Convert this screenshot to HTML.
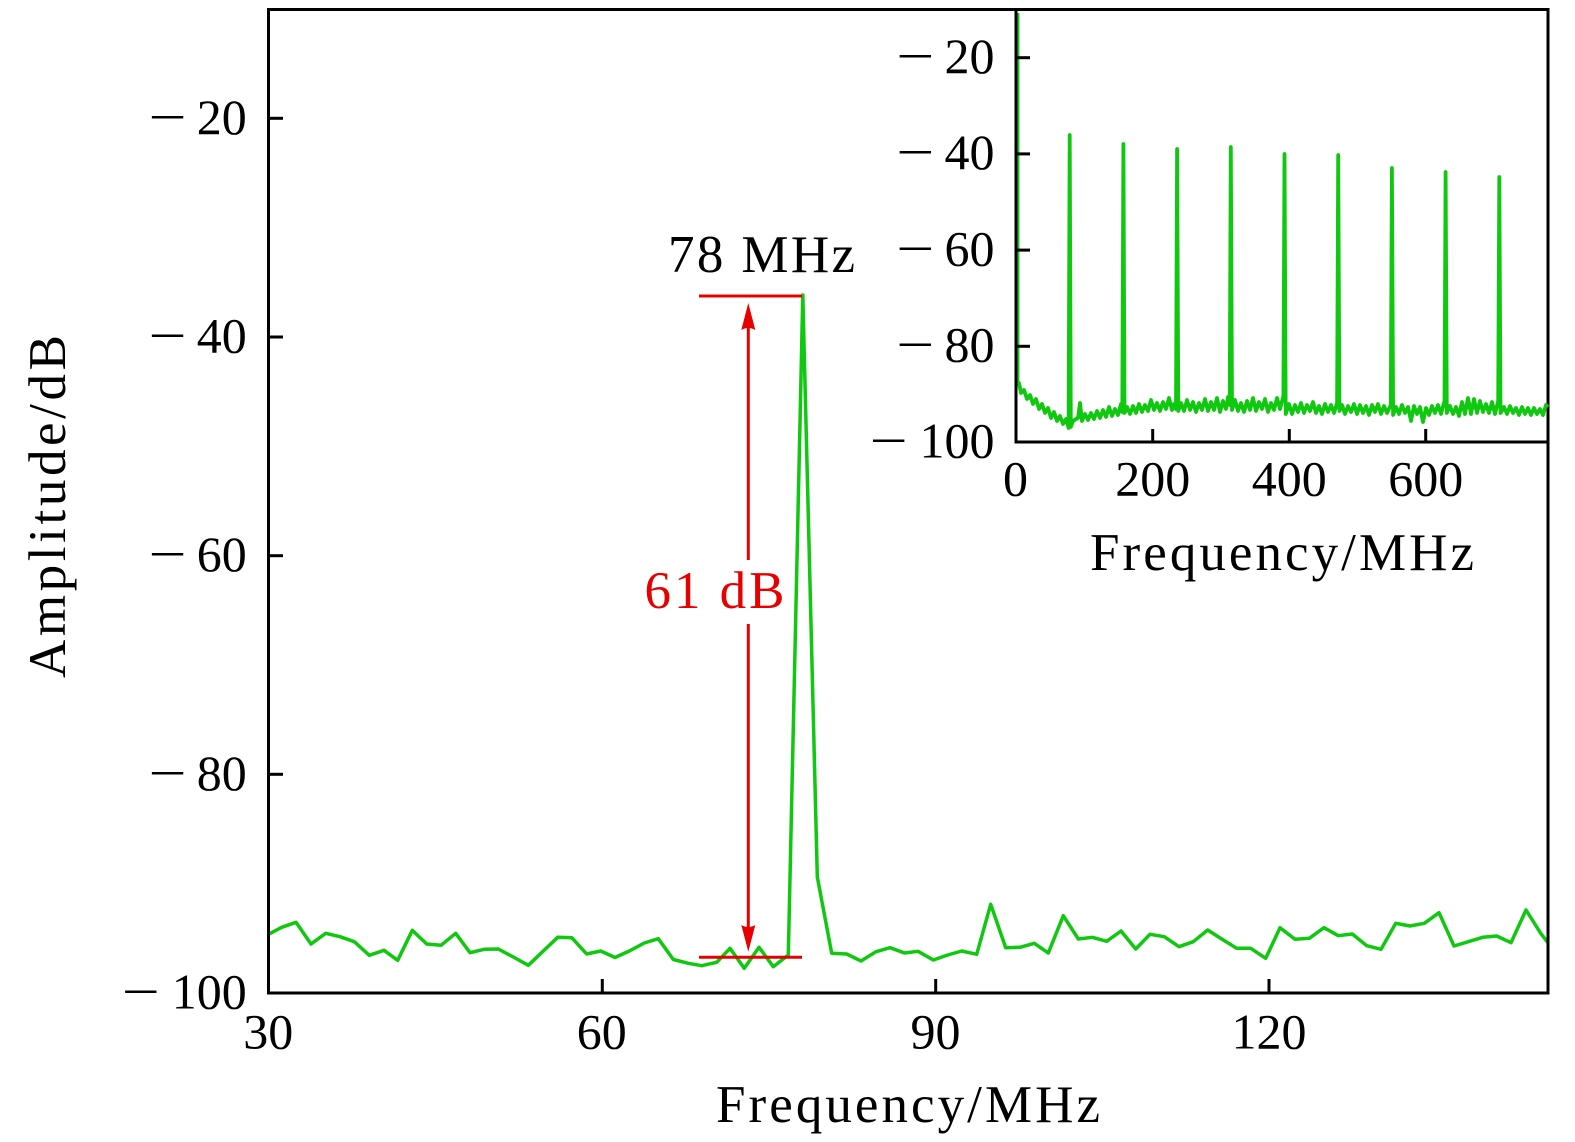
<!DOCTYPE html>
<html><head><meta charset="utf-8"><style>
html,body{margin:0;padding:0;background:#fff;}
svg{display:block;}
text{font-family:"Liberation Serif","DejaVu Serif",serif;font-size:50px;fill:#000;}
.big{font-size:53px;}
</style></head><body>
<svg width="1575" height="1142" viewBox="0 0 1575 1142" xmlns="http://www.w3.org/2000/svg">
<rect width="1575" height="1142" fill="#fff"/>
<defs><clipPath id="c"><rect x="269" y="9" width="1279" height="984"/></clipPath></defs>

<!-- main series -->
<polyline clip-path="url(#c)" fill="none" stroke="#0fc80f" stroke-width="3.5" stroke-linejoin="round" points="
267.2,935 281.7,927.3 296,922.3 311,944 325.7,933.3 340,936.7 354.3,941.7 369.3,955.3 384,950.3 397.7,960.3
412.3,930.3 426.7,944 441,945.3 455.7,933.3 470,952.7 484.3,949.3 498.3,949 513.3,957 528.3,965.3 543.3,951
557.7,937.3 571.7,937.7 586.7,954 600.7,951 615,957.5 629.3,951 644.3,943 658.3,938.7 673.3,959.5 688.3,963.3
701.7,965.7 716.7,962.3 730,948.3 744.3,968.3 759,947.3 773.3,966.7 788.3,955 802.8,295 817.3,877 831.7,953.3
846.7,954 861,961 876,951.7 890,947.7 904.5,953 918,951.3 933.3,960 947.7,955 961.7,951 976.7,954.3
990.7,904.3 1005.7,947.7 1020,947.3 1034.3,943.3 1048.3,953 1063.3,915.7 1078.3,939 1092.3,937.3 1106.7,941.3 1121,931
1135.7,949 1150,934.3 1164.3,936.7 1179,946.7 1193.3,941.7 1207.7,930 1221.7,939 1236.7,948.3 1250.7,948.3 1265.7,958.3
1280,927.7 1295,939.3 1309.3,938.3 1324,927.7 1338.3,935.7 1352.3,934 1366.7,945.7 1381,949.3 1395.7,923.3 1410,926
1424.3,923.3 1439,912.7 1454,946 1468.3,941.7 1482.7,937.3 1496.7,936 1511,942.7 1526,910 1540.7,933.3 1552,948"/>

<!-- main frame -->
<rect x="268.5" y="9.5" width="1279.5" height="983.5" fill="none" stroke="#000" stroke-width="3"/>
<!-- main ticks -->
<g stroke="#000" stroke-width="3">
<line x1="269" y1="118.3" x2="283" y2="118.3"/>
<line x1="269" y1="337" x2="283" y2="337"/>
<line x1="269" y1="555.7" x2="283" y2="555.7"/>
<line x1="269" y1="774.3" x2="283" y2="774.3"/>
<line x1="602.3" y1="993" x2="602.3" y2="979"/>
<line x1="935.7" y1="993" x2="935.7" y2="979"/>
<line x1="1269" y1="993" x2="1269" y2="979"/>
</g>
<!-- main y labels -->
<g>
<text transform="translate(148.5,134) scale(1.35,1)">−</text>
<text x="246.7" y="134" text-anchor="end">20</text>
<text transform="translate(148.5,352.5) scale(1.35,1)">−</text>
<text x="246.7" y="352.5" text-anchor="end">40</text>
<text transform="translate(148.5,571) scale(1.35,1)">−</text>
<text x="246.7" y="571" text-anchor="end">60</text>
<text transform="translate(148.5,790) scale(1.35,1)">−</text>
<text x="246.7" y="790" text-anchor="end">80</text>
<text transform="translate(121.8,1008.5) scale(1.35,1)">−</text>
<text x="246.7" y="1008.5" text-anchor="end">100</text>
</g>
<!-- main x labels -->
<g text-anchor="middle">
<text x="268.3" y="1048.5">30</text>
<text x="601.7" y="1048.5">60</text>
<text x="935.5" y="1048.5">90</text>
<text x="1269" y="1048.5">120</text>
</g>
<text class="big" x="716" y="1122" textLength="384" lengthAdjust="spacing">Frequency/MHz</text>
<text class="big" transform="translate(65,506.5) rotate(-90)" x="0" y="0" text-anchor="middle" textLength="343" lengthAdjust="spacing">Amplitude/dB</text>

<!-- annotations -->
<text class="big" x="668" y="272" textLength="187" lengthAdjust="spacing">78 MHz</text>
<g stroke="#e60000" stroke-width="3" fill="none">
<line x1="699" y1="296" x2="802" y2="296"/>
<line x1="699" y1="957.3" x2="802" y2="957.3"/>
<line x1="748.3" y1="326" x2="748.3" y2="560"/>
<line x1="748.3" y1="624" x2="748.3" y2="929"/>
</g>
<path d="M748.3,303 L755.3,330 Q748.3,326 741.3,330 Z" fill="#e60000"/>
<path d="M748.3,951.7 L755.3,925 Q748.3,929 741.3,925 Z" fill="#e60000"/>
<text class="big" x="644.5" y="608" textLength="140" lengthAdjust="spacing" style="fill:#e60000">61 dB</text>

<!-- inset -->
<line x1="1018" y1="13" x2="1018" y2="386" stroke="#0fc80f" stroke-width="2.8"/>
<polyline fill="none" stroke="#0fc80f" stroke-width="3.8" stroke-linejoin="round" points="
1017,385 1019,383 1021,393 1024,390 1027,399 1030,395 1033,404 1036,399 1039,409 1042,404 1045,413 1048,408 1051,418 1054,412 1057,421 1060,416 1063,424 1066,419 1068.6,428
1069.7,135 1070.8,427 1073,421 1076,419 1078,418 1080,403 1082,421 1085,414 1088,420 1091,413 1094,419 1097,411 1100,418 1103,410 1106,417 1109,407 1112,416 1115,409 1118,415 1121,404 1122.3,412
1123.4,144 1124.5,413 1127,407 1130,414 1133,406 1136,413 1139,404 1142,412 1145,405 1148,411 1151,400 1154,410 1157,403 1160,411 1163,402 1166,409 1169,398 1172,410 1174,404 1176,409
1177.1,149 1178.3,411 1181,403 1184,411 1187,400 1190,410 1193,402 1196,412 1199,403 1202,410 1205,399 1208,411 1211,402 1214,410 1217,398 1220,412 1223,401 1226,409 1228,397 1229.7,405
1230.8,147 1232,410 1235,400 1238,411 1241,403 1244,412 1247,401 1250,410 1253,398 1256,411 1259,402 1262,409 1265,399 1268,412 1271,403 1274,410 1277,398 1280,409 1283.4,396
1284.5,154 1285.7,414 1289,404 1292,414 1295,405 1298,412 1301,403 1304,413 1307,405 1310,411 1313,402 1316,413 1319,406 1322,414 1325,404 1328,412 1331,405 1334,413 1337.1,403
1338.2,155 1339.4,411 1342,405 1345,414 1348,406 1351,412 1354,404 1357,414 1360,405 1363,413 1366,406 1369,415 1372,405 1375,412 1378,404 1381,414 1384,406 1387,413 1390.8,405
1391.9,168 1393.1,415 1396,407 1399,414 1402,405 1405,413 1408,407 1411,421 1414,406 1417,414 1420,407 1423,422 1426,408 1429,415 1432,406 1435,413 1438,405 1441,414 1444.5,401
1445.6,172 1446.8,413 1450,406 1453,414 1456,407 1459,416 1462,402 1465,414 1468,398 1471,414 1474,399 1477,413 1480,401 1483,412 1486,404 1489,413 1492,402 1495,414 1498.2,401
1499.3,177 1500.5,413 1504,407 1507,414 1510,406 1513,413 1516,408 1519,415 1522,407 1525,414 1528,408 1531,415 1534,408 1537,414 1540,409 1543,415 1546,405 1548,407"/>
<g stroke="#000" stroke-width="3">
<line x1="1016" y1="9" x2="1016" y2="443.5"/>
<line x1="1014.5" y1="442" x2="1548" y2="442"/>
<line x1="1016" y1="57.7" x2="1030" y2="57.7"/>
<line x1="1016" y1="153.9" x2="1030" y2="153.9"/>
<line x1="1016" y1="250.1" x2="1030" y2="250.1"/>
<line x1="1016" y1="346.3" x2="1030" y2="346.3"/>
<line x1="1152.7" y1="442" x2="1152.7" y2="429"/>
<line x1="1289.3" y1="442" x2="1289.3" y2="429"/>
<line x1="1425.7" y1="442" x2="1425.7" y2="429"/>
</g>
<g>
<text transform="translate(896.3,73) scale(1.35,1)">−</text>
<text x="994.5" y="73" text-anchor="end">20</text>
<text transform="translate(896.3,169) scale(1.35,1)">−</text>
<text x="994.5" y="169" text-anchor="end">40</text>
<text transform="translate(896.3,265.5) scale(1.35,1)">−</text>
<text x="994.5" y="265.5" text-anchor="end">60</text>
<text transform="translate(896.3,361.5) scale(1.35,1)">−</text>
<text x="994.5" y="361.5" text-anchor="end">80</text>
<text transform="translate(869.6,457.5) scale(1.35,1)">−</text>
<text x="994.5" y="457.5" text-anchor="end">100</text>
</g>
<g text-anchor="middle">
<text x="1015.5" y="495.5">0</text>
<text x="1152.7" y="495.5">200</text>
<text x="1289.3" y="495.5">400</text>
<text x="1425.7" y="495.5">600</text>
</g>
<text class="big" x="1090" y="570" textLength="384" lengthAdjust="spacing">Frequency/MHz</text>
</svg>
</body></html>
